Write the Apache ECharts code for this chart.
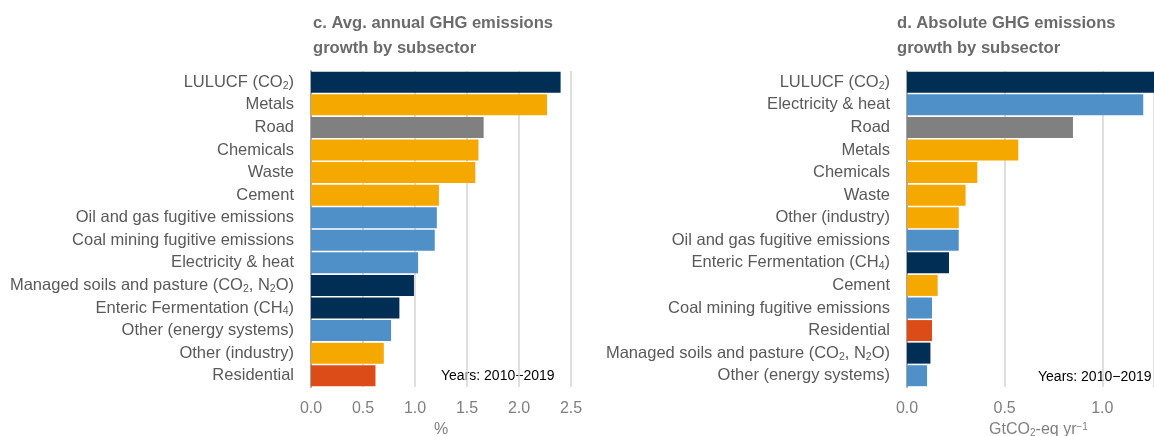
<!DOCTYPE html>
<html>
<head>
<meta charset="utf-8">
<script src="https://cdn.jsdelivr.net/npm/echarts@6/dist/echarts.min.js"></script>
<style>
html,body{margin:0;padding:0;background:#fff;}
#chart{width:1154px;height:436px;}
</style>
</head>
<body>
<div id="chart"></div>
<script>
// ---- Panel c: average annual GHG emissions growth (%) ----
const categoriesC = [
  "LULUCF (CO₂)", "Metals", "Road", "Chemicals", "Waste", "Cement",
  "Oil and gas fugitive emissions", "Coal mining fugitive emissions",
  "Electricity & heat", "Managed soils and pasture (CO₂, N₂O)",
  "Enteric Fermentation (CH₄)", "Other (energy systems)", "Other (industry)", "Residential"
];
const valuesC = [2.40, 2.27, 1.66, 1.61, 1.58, 1.23, 1.21, 1.19, 1.03, 0.99, 0.85, 0.77, 0.70, 0.62];
const sectorsC = ["afolu", "industry", "transport", "industry", "industry", "industry",
  "energy", "energy", "energy", "afolu", "afolu", "energy", "industry", "buildings"];

// ---- Panel d: absolute GHG emissions growth (GtCO2-eq/yr) ----
const categoriesD = [
  "LULUCF (CO₂)", "Electricity & heat", "Road", "Metals", "Chemicals", "Waste",
  "Other (industry)", "Oil and gas fugitive emissions", "Enteric Fermentation (CH₄)",
  "Cement", "Coal mining fugitive emissions", "Residential",
  "Managed soils and pasture (CO₂, N₂O)", "Other (energy systems)"
];
const valuesD = [1.30, 1.21, 0.85, 0.57, 0.36, 0.30, 0.265, 0.265, 0.215, 0.157, 0.128, 0.128, 0.12, 0.103];
const sectorsD = ["afolu", "energy", "transport", "industry", "industry", "industry",
  "industry", "energy", "afolu", "industry", "energy", "buildings", "afolu", "energy"];

const ticksC = [0, 0.5, 1.0, 1.5, 2.0, 2.5];
const ticksD = [0, 0.5, 1.0];
const axisMaxD = 1.265; // panel d is cropped at the right edge of the figure

// ---- styles ----
const sectorColors = {
  afolu: "#002E54",
  industry: "#F5A800",
  transport: "#808080",
  energy: "#5090C8",
  buildings: "#DC4C18"
};
const FONT = "'Liberation Sans', Arial, sans-serif";
const subMap = {"₂": "2", "₄": "4"};
function richLabel(s) {
  return s.replace(/[₂₄]/g, m => "{s|" + subMap[m] + "}");
}

const chart = echarts.init(document.getElementById("chart"), null, {renderer: "canvas"});

function xAxisCfg(gridIndex, ticks, max, name, namePad) {
  return {
    type: "value",
    gridIndex: gridIndex,
    min: ticks[0],
    max: max,
    interval: 0.5,
    axisLine: {show: false},
    axisTick: {show: false},
    splitLine: {show: true, lineStyle: {color: "#D4D4D4", width: 1.5}},
    axisLabel: {
      color: "#7F7F7F", fontSize: 16, fontFamily: FONT, margin: 14,
      showMaxLabel: max === ticks[ticks.length - 1],
      formatter: v => v.toFixed(1)
    },
    name: name,
    nameLocation: "middle",
    nameGap: 33,
    nameTextStyle: {
      color: "#7F7F7F", fontSize: 16, fontFamily: FONT,
      padding: namePad,
      rich: {
        s: {fontSize: 10, color: "#7F7F7F", fontFamily: FONT, verticalAlign: "bottom", padding: [6, 0, 0, 0]},
        p: {fontSize: 10, color: "#7F7F7F", fontFamily: FONT, verticalAlign: "top", padding: [0, 0, 6, 0]}
      }
    }
  };
}

function yAxisCfg(gridIndex, cats) {
  return {
    type: "category",
    gridIndex: gridIndex,
    data: cats,
    inverse: true,
    axisLine: {show: true, lineStyle: {color: "#A6A6A6", width: 2}},
    axisTick: {show: false},
    splitLine: {show: false},
    axisLabel: {
      interval: 0,
      hideOverlap: false,
      color: "#595959", fontSize: 16.5, fontFamily: FONT, margin: 17,
      formatter: richLabel,
      rich: {
        s: {fontSize: 10.5, color: "#595959", fontFamily: FONT, verticalAlign: "bottom", padding: [7, 0, 0, 0]}
      }
    }
  };
}

function seriesCfg(idx, values, sectors) {
  return {
    type: "bar",
    xAxisIndex: idx,
    yAxisIndex: idx,
    barCategoryGap: "7%",
    clip: true,
    silent: true,
    data: values.map((v, i) => ({value: v, itemStyle: {color: sectorColors[sectors[i]]}}))
  };
}

chart.setOption({
  animation: false,
  backgroundColor: "#ffffff",
  title: [
    {
      text: "c. Avg. annual GHG emissions\ngrowth by subsector",
      left: 308, top: 6,
      textStyle: {color: "#6B6B6B", fontSize: 16.6, fontWeight: "bold", fontFamily: FONT, lineHeight: 25}
    },
    {
      text: "d. Absolute GHG emissions\ngrowth by subsector",
      left: 892, top: 6,
      textStyle: {color: "#6B6B6B", fontSize: 16.6, fontWeight: "bold", fontFamily: FONT, lineHeight: 25}
    }
  ],
  grid: [
    {left: 311, right: 1154 - 571, top: 71, bottom: 49, containLabel: false, outerBoundsMode: "none"},
    {left: 907, right: 0, top: 71, bottom: 49, containLabel: false, outerBoundsMode: "none"}
  ],
  xAxis: [
    xAxisCfg(0, ticksC, ticksC[ticksC.length - 1], "%", [0, 0, 0, 0]),
    xAxisCfg(1, ticksD, axisMaxD, "GtCO{s|2}-eq yr{p|−1}", [0, 0, 0, 16])
  ],
  yAxis: [
    yAxisCfg(0, categoriesC),
    yAxisCfg(1, categoriesD)
  ],
  series: [
    seriesCfg(0, valuesC, sectorsC),
    seriesCfg(1, valuesD, sectorsD)
  ],
  graphic: [
    {type: "text", left: 441, top: 369, style: {text: "Years: 2010−2019", fill: "#000", fontSize: 14, fontFamily: FONT}},
    {type: "text", left: 1038, top: 370, style: {text: "Years: 2010−2019", fill: "#000", fontSize: 14, fontFamily: FONT}}
  ]
});
</script>
</body>
</html>
